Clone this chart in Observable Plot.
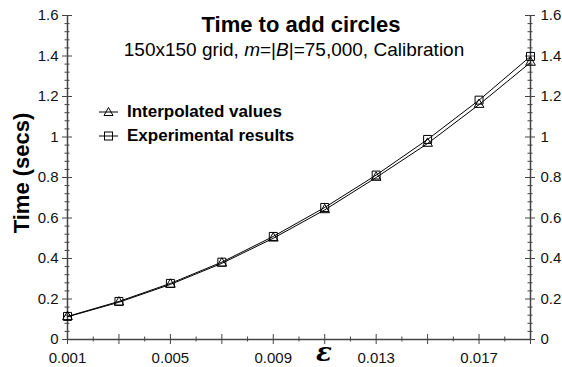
<!DOCTYPE html>
<html>
<head>
<meta charset="utf-8">
<script src="https://cdn.jsdelivr.net/npm/d3@7"></script>
<script src="https://cdn.jsdelivr.net/npm/@observablehq/plot@0.6"></script>
<style>
  html, body { margin: 0; padding: 0; background: #fff; }
  #wrap { position: relative; width: 562px; height: 367px; font-family: "Liberation Sans", Arial, sans-serif; }
  #wrap svg.overlay { position: absolute; left: 0; top: 0; pointer-events: none; }
</style>
</head>
<body>
<div id="wrap"></div>
<script>
const epsilon = [0.001, 0.003, 0.005, 0.007, 0.009, 0.011, 0.013, 0.015, 0.017, 0.019];
const interpolated = [0.112, 0.184, 0.272, 0.376, 0.500, 0.640, 0.800, 0.968, 1.160, 1.368];
const experimental = [0.114, 0.188, 0.277, 0.382, 0.509, 0.652, 0.812, 0.988, 1.182, 1.398];
const seriesNames = ["Interpolated values", "Experimental results"];
const xTickLabels = [0.001, 0.005, 0.009, 0.013, 0.017];
const xMajorTicks = [0.001, 0.003, 0.005, 0.007, 0.009, 0.011, 0.013, 0.015, 0.017, 0.019];
const xMinorTicks = [0.002, 0.004, 0.006, 0.008, 0.010, 0.012, 0.014, 0.016, 0.018];
const yTickLabels = [0, 0.2, 0.4, 0.6, 0.8, 1, 1.2, 1.4, 1.6];
const yMinorTicks = [0.04, 0.08, 0.12, 0.16, 0.24, 0.28, 0.32, 0.36, 0.44, 0.48, 0.52, 0.56,
  0.64, 0.68, 0.72, 0.76, 0.84, 0.88, 0.92, 0.96, 1.04, 1.08, 1.12, 1.16, 1.24, 1.28, 1.32, 1.36,
  1.44, 1.48, 1.52, 1.56];

const interp = epsilon.map((e, i) => ({e, t: interpolated[i]}));
const exper = epsilon.map((e, i) => ({e, t: experimental[i]}));
const xMin = epsilon[0], xMax = epsilon[epsilon.length - 1];
const axisColor = "#444";

const chart = Plot.plot({
  width: 562,
  height: 367,
  marginLeft: 67,
  marginRight: 32,
  marginTop: 15,
  marginBottom: 28,
  style: {fontFamily: "'Liberation Sans', Arial, sans-serif", fontSize: "15px", color: "#111", background: "#fff"},
  x: {domain: [xMin, xMax]},
  y: {domain: [0, 1.6]},
  marks: [
    // axis lines
    Plot.ruleY([0], {stroke: axisColor, strokeWidth: 1.5}),
    Plot.ruleX([xMin, xMax], {stroke: axisColor, strokeWidth: 1.5}),
    // x ticks (crossing)
    Plot.ruleX(xMajorTicks, {x: d => d, y1: 0, y2: 0, insetTop: -5, insetBottom: -5, stroke: axisColor}),
    Plot.ruleX(xMinorTicks, {x: d => d, y1: 0, y2: 0, insetTop: -2.5, insetBottom: -2.5, stroke: axisColor}),
    // y ticks left and right
    Plot.ruleY(yTickLabels, {y: d => d, x1: xMin, x2: xMin, insetLeft: -5, insetRight: -5, stroke: axisColor}),
    Plot.ruleY(yMinorTicks, {y: d => d, x1: xMin, x2: xMin, insetLeft: -2.5, insetRight: -2.5, stroke: axisColor}),
    Plot.ruleY(yTickLabels, {y: d => d, x1: xMax, x2: xMax, insetLeft: -5, insetRight: -5, stroke: axisColor}),
    Plot.ruleY(yMinorTicks, {y: d => d, x1: xMax, x2: xMax, insetLeft: -2.5, insetRight: -2.5, stroke: axisColor}),
    // tick labels
    Plot.axisX({ticks: xTickLabels, tickSize: 0, tickPadding: 13, tickFormat: d => String(d), label: null, fontSize: 15}),
    Plot.axisY({anchor: "left", ticks: yTickLabels, tickSize: 0, tickPadding: 9, tickFormat: d => String(d), label: null, fontSize: 15}),
    Plot.axisY({anchor: "right", ticks: yTickLabels, tickSize: 0, tickPadding: 10, tickFormat: d => String(d), label: null, fontSize: 15}),
    // data
    Plot.line(interp, {x: "e", y: "t", stroke: "#000", strokeWidth: 1}),
    Plot.line(exper, {x: "e", y: "t", stroke: "#000", strokeWidth: 1}),
    Plot.dot(interp, {x: "e", y: "t", symbol: "triangle", r: 3.6, stroke: "#000", strokeWidth: 1, fill: "none"}),
    Plot.dot(exper, {x: "e", y: "t", symbol: "square", r: 4.5, stroke: "#000", strokeWidth: 1, fill: "none"})
  ]
});

const wrap = document.getElementById("wrap");
wrap.appendChild(chart);

// overlay text: titles, legend, axis titles
const ns = "http://www.w3.org/2000/svg";
const ov = document.createElementNS(ns, "svg");
ov.setAttribute("class", "overlay");
ov.setAttribute("width", 562);
ov.setAttribute("height", 367);
ov.innerHTML = `
  <text x="301" y="32" text-anchor="middle" font-size="22" font-weight="bold" fill="#000">Time to add circles</text>
  <text x="294" y="56" text-anchor="middle" font-size="19" fill="#000">150x150 grid, <tspan font-style="italic">m</tspan>=|<tspan font-style="italic">B</tspan>|=75,000, Calibration</text>
  <g stroke="#000" fill="none" stroke-width="1">
    <line x1="99" y1="112" x2="118" y2="112"/>
    <path d="M108.5,107.5 L113,115.5 L104,115.5 Z"/>
    <line x1="99" y1="136" x2="118" y2="136"/>
    <rect x="104.5" y="132" width="8" height="8"/>
  </g>
  <text x="127" y="117" font-size="17" font-weight="bold" fill="#000">${seriesNames[0]}</text>
  <text x="127" y="141" font-size="17" font-weight="bold" fill="#000">${seriesNames[1]}</text>
  <text transform="translate(29,173) rotate(-90)" text-anchor="middle" font-size="22" font-weight="bold" fill="#000">Time (secs)</text>
  <text x="324" y="361" text-anchor="middle" font-size="26" font-weight="bold" font-style="italic" font-family="'DejaVu Serif', serif" fill="#000">ε</text>
`;
ov.style.fontFamily = "'Liberation Sans', Arial, sans-serif";
wrap.appendChild(ov);
</script>
</body>
</html>
